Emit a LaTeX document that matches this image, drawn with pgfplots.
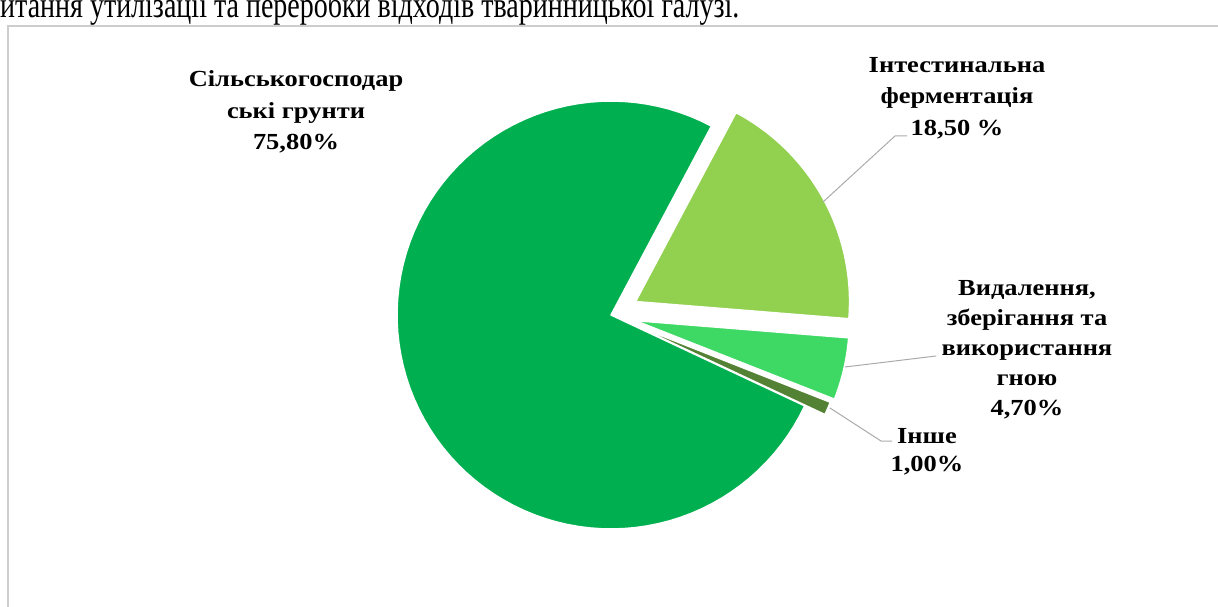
\documentclass[border=0pt]{standalone}
\usepackage{pgfplots}
\pgfplotsset{compat=1.18}
\usepackage{fontspec}
\setmainfont{Liberation Serif}
\newfontfamily\labfont{Liberation Serif}[FakeStretch=1.15]
\definecolor{cBig}{RGB}{0,176,80}
\definecolor{cInt}{RGB}{146,208,80}
\definecolor{cMan}{RGB}{62,216,100}
\definecolor{cOth}{RGB}{84,130,53}
\definecolor{cFrame}{RGB}{205,205,205}
\definecolor{cLead}{RGB}{170,170,170}

% data (per cent)
\def\valInt{18.5}
\def\valMan{4.7}
\def\valOth{1.0}
\def\valSoil{75.8}
\def\startang{62}
\pgfmathsetmacro\aA{\startang}
\pgfmathsetmacro\aB{\aA-3.6*\valInt}
\pgfmathsetmacro\aC{\aB-3.6*\valMan}
\pgfmathsetmacro\aD{\aC-3.6*\valOth}
\pgfmathsetmacro\aE{\aD-3.6*\valSoil}
\def\cx{611}
\def\cy{291}
\def\R{214}

\newcommand\slice[4]{%
  \pgfmathsetmacro\midang{(#1+#2)/2}%
  \pgfmathsetmacro\vx{\cx+#3*cos(\midang)}%
  \pgfmathsetmacro\vy{\cy+#3*sin(\midang)}%
  \edef\temp{\noexpand\addplot[fill=#4, draw=white, line width=1.5pt, line join=round, domain=#2:#1, samples=90, no marks] ({\vx+\R*cos(x)},{\vy+\R*sin(x)}) -- (axis cs:\vx,\vy) -- cycle;}%
  \temp
}

\begin{document}
\begin{tikzpicture}
\useasboundingbox (0,0) rectangle (1218pt,606pt);
\clip (0,0) rectangle (1218pt,606pt);
\begin{axis}[at={(0,0)}, anchor=south west, scale only axis, width=1218pt, height=606pt,
  xmin=0, xmax=1218, ymin=0, ymax=606, hide axis, clip=false]
\draw[cFrame, line width=2pt] (axis cs:8,-20) -- (axis cs:8,580) -- (axis cs:1240,580);
\slice{\aA}{\aB}{28}{cInt}
\slice{\aB}{\aC}{25}{cMan}
\slice{\aC}{\aD}{22}{cOth}
\slice{\aD}{\aE}{0}{cBig}
\addplot[cLead, line width=1pt, no marks] coordinates {(823,404) (895,470) (907,470)};
\addplot[cLead, line width=1pt, no marks] coordinates {(845,239) (936,250)};
\addplot[cLead, line width=1pt, no marks] coordinates {(830,198) (881,165) (892,165)};
\node[anchor=base west, inner sep=0pt] at (axis cs:0,588) {\scalebox{1}[1.3]{\fontsize{28}{30}\selectfont итання утилізації та переробки відходів тваринницької галузі.}};
\node[align=center, font=\labfont\bfseries\fontsize{23}{31.5}\selectfont] at (axis cs:296,494) {Сільськогосподар\\ські грунти\\75,80\%};
\node[align=center, font=\labfont\bfseries\fontsize{23}{31.5}\selectfont] at (axis cs:957,508) {Інтестинальна\\ферментація\\18,50 \%};
\node[align=center, font=\labfont\bfseries\fontsize{23}{30}\selectfont] at (axis cs:1027,256) {Видалення,\\зберігання та\\використання\\гною\\4,70\%};
\node[align=center, font=\labfont\bfseries\fontsize{23}{28}\selectfont] at (axis cs:927,154) {Інше\\1,00\%};
\end{axis}
\end{tikzpicture}
\end{document}
